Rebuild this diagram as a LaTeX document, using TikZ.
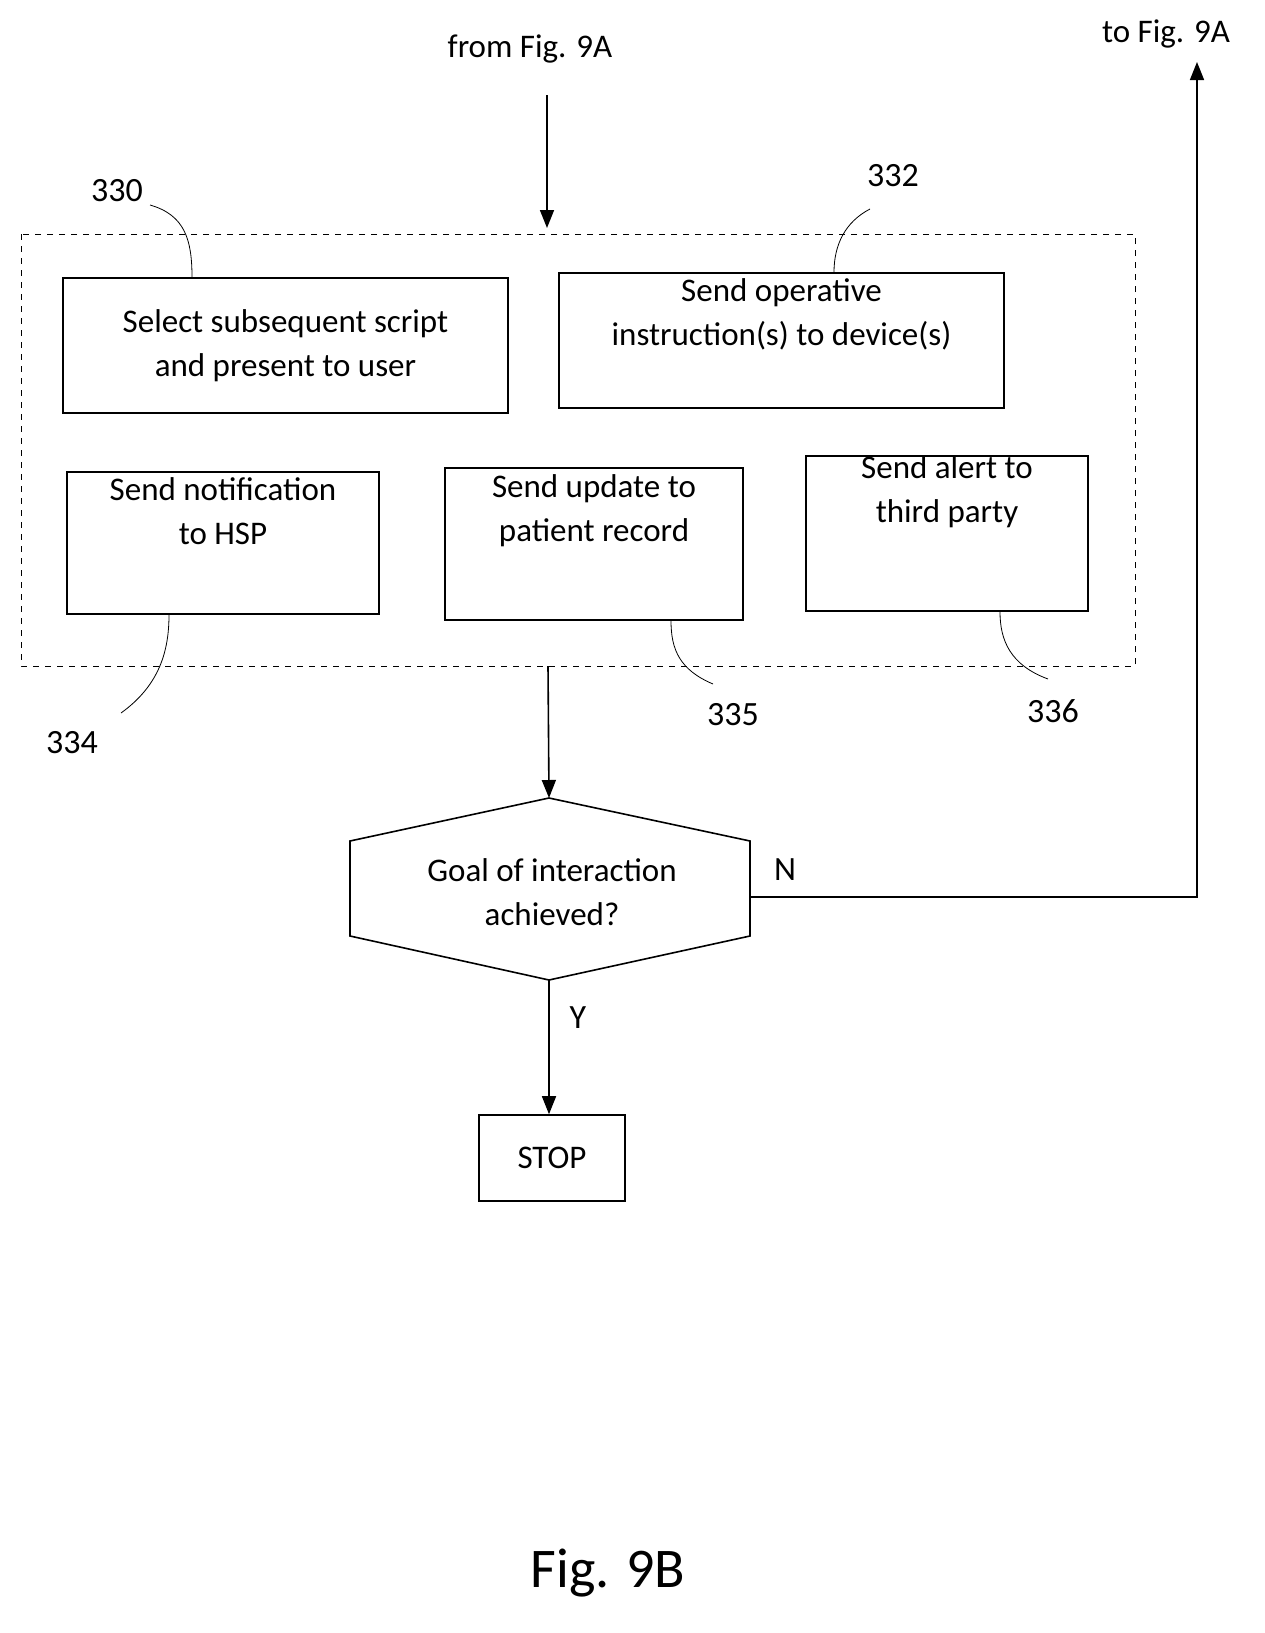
\documentclass[tikz,border=0pt]{standalone}
\usepackage{fontspec}
\setmainfont{Carlito}
\usetikzlibrary{arrows.meta}
\begin{document}
\begin{tikzpicture}[x=0.5pt,y=-0.5pt,
  box/.style={draw,thick,inner sep=0pt,align=center,font=\fontsize{16.5}{22}\selectfont},
  lbl/.style={font=\fontsize{17}{20}\selectfont},
  arr/.style={-{Triangle[length=9pt,width=7pt]},thick},
  lead/.style={thin}]
\useasboundingbox (0,0) rectangle (1264,1633);
\node[font=\fontsize{16.5}{20}\selectfont] (from) at (530,49) {from Fig. 9A};
\node[font=\fontsize{16.5}{20}\selectfont] (to) at (1166,34) {to Fig. 9A};
\draw[dashed,thin] (21,234) rectangle (1135,666);
\coordinate (fromS) at (547,95);
\coordinate (grpT) at (547,228);
\coordinate (grpB) at (548,666);
\draw[arr] (fromS) -- (grpT);
\node[box,minimum width=222.5pt,minimum height=67.5pt] (b330) at (285.5,345.5) {Select subsequent script\\and present to user};
\node[box,minimum width=222.5pt,minimum height=67.5pt] (b332) at (781.5,340.5) {Send operative\\instruction(s) to device(s)\\[6pt]};
\node[box,minimum width=156pt,minimum height=71pt] (b334) at (223,543) {Send notification\\to HSP\\[10pt]};
\node[box,minimum width=149pt,minimum height=76pt] (b335) at (594,544) {Send update to\\patient record\\[14pt]};
\node[box,minimum width=141pt,minimum height=76.5pt] (b336) at (947,533.5) {Send alert to\\third party\\[22pt]};
\node[lbl] (l330) at (117,191) {330};
\node[lbl] (l332) at (893,176) {332};
\node[lbl] (l334) at (72,743) {334};
\node[lbl] (l335) at (733,715) {335};
\node[lbl] (l336) at (1053,711) {336};
\draw[lead] (150,205) .. controls (185,215) and (192,240) .. (b330.north-|192,0);
\draw[lead] (870,209) .. controls (845,222) and (834,245) .. (b332.north-|834,0);
\draw[lead] (121,713) .. controls (160,685) and (169,650) .. (b334.south-|169,0);
\draw[lead] (713,684) .. controls (680,670) and (671,650) .. (b335.south-|671,0);
\draw[lead] (1048,679) .. controls (1010,665) and (1000,640) .. (b336.south-|1000,0);
\draw[thick] (549,798) -- (750,841) -- (750,936) -- (549,980) -- (350,936) -- (350,841) -- cycle;
\node[align=center,font=\fontsize{16.5}{22}\selectfont] (dec) at (552,892) {Goal of interaction\\achieved?};
\coordinate (decT) at (549,798);
\coordinate (decB) at (549,980);
\coordinate (decR) at (750,897);
\draw[arr] (grpB) -- (decT);
\node[lbl] (N) at (785,870) {N};
\node[lbl] (Y) at (578,1018) {Y};
\coordinate (corner) at (1197,897);
\coordinate (toS) at (1197,62);
\draw[arr] (decR) -- (corner) -- (toS);
\node[box,minimum width=73pt,minimum height=43pt] (stop) at (552,1158) {STOP};
\draw[arr] (decB) -- (decB|-stop.north);
\node[font=\fontsize{28}{32}\selectfont] (fig) at (608,1573) {Fig. 9B};
\end{tikzpicture}
\end{document}
